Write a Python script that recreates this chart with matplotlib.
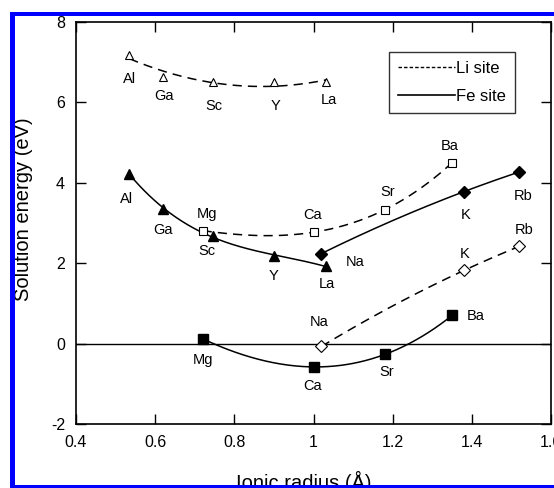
import numpy as np
import matplotlib
matplotlib.use('Agg')
import matplotlib.pyplot as plt
from matplotlib.lines import Line2D
from matplotlib.patches import Rectangle

plt.rcParams['font.family'] = ['Liberation Sans', 'DejaVu Sans']
plt.rcParams['axes.unicode_minus'] = False

#-------------------------------------------------------------------------------
# ionic radius (A) and solution energy (eV)
tri_names = ['Al', 'Ga', 'Sc', 'Y', 'La']
tri_radius = [0.535, 0.62, 0.745, 0.90, 1.032]
tri_li = [7.18, 6.63, 6.50, 6.50, 6.51]
tri_fe = [4.22, 3.35, 2.68, 2.19, 1.92]

div_names = ['Mg', 'Ca', 'Sr', 'Ba']
div_radius = [0.72, 1.00, 1.18, 1.35]
div_li = [2.81, 2.77, 3.33, 4.50]
div_fe = [0.12, -0.58, -0.27, 0.70]

mono_names = ['Na', 'K', 'Rb']
mono_radius = [1.02, 1.38, 1.52]
mono_li = [-0.07, 1.82, 2.42]
mono_fe = [2.24, 3.78, 4.27]

xticks = [0.4, 0.6, 0.8, 1.0, 1.2, 1.4, 1.6]
xticklabels = ['0.4', '0.6', '0.8', '1', '1.2', '1.4', '1.6']
yticks = [-2, 0, 2, 4, 6, 8]

# label offsets (pixels) for each point
off_tri_li = [(0, -24), (1, -19), (1, -24), (2, -24), (3, -18)]
off_tri_fe = [(-3, -25), (0, -21), (-6, -15), (0, -20), (1, -18)]
off_div_li = [(4, 17), (-1, 17), (3, 18), (-2, 17)]
off_div_fe = [(0, -21), (-1, -19), (2, -18), (24, -1)]
off_mono_li = [(-2, 24), (1, 16), (5, 16)]
off_mono_fe = [(34, -8), (2, -23), (4, -24)]
#-------------------------------------------------------------------------------

fig = plt.figure(figsize=(5.54, 4.88), dpi=100)
fig.patch.set_facecolor('white')
ax = fig.add_axes([76/554, 1-424/488, 475/554, 402/488])

dash = (0, (6, 4))

def fit_line(x, y, deg, ls):
    p = np.polyfit(x, y, deg)
    xx = np.linspace(min(x), max(x), 200)
    ax.plot(xx, np.polyval(p, xx), color='black', lw=1.1, linestyle=ls, zorder=2)

def put_labels(names, x, y, offs):
    for n, xi, yi, o in zip(names, x, y, offs):
        ax.annotate(n, (xi, yi), xytext=o, textcoords='offset pixels',
                    ha='center', va='center', fontsize=10.5)

ax.axhline(0, color='black', lw=1.0, zorder=1)

fit_line(tri_radius, tri_li, 2, dash)
fit_line(tri_radius, tri_fe, 3, '-')
fit_line(div_radius, div_li, 3, dash)
fit_line(div_radius, div_fe, 3, '-')
fit_line(mono_radius, mono_li, 2, dash)
fit_line(mono_radius, mono_fe, 2, '-')

ax.plot(tri_radius, tri_li, linestyle='none', marker='^', ms=5.5, mfc='white', mec='black', mew=0.8, zorder=3)
ax.plot(tri_radius, tri_fe, linestyle='none', marker='^', ms=6.5, color='black', zorder=3)
ax.plot(div_radius, div_li, linestyle='none', marker='s', ms=6.3, mfc='white', mec='black', mew=0.8, zorder=3)
ax.plot(div_radius, div_fe, linestyle='none', marker='s', ms=7.8, color='black', zorder=3)
ax.plot(mono_radius, mono_li, linestyle='none', marker='D', ms=5.8, mfc='white', mec='black', mew=0.8, zorder=3)
ax.plot(mono_radius, mono_fe, linestyle='none', marker='D', ms=5.8, color='black', zorder=3)

put_labels(tri_names, tri_radius, tri_li, off_tri_li)
put_labels(tri_names, tri_radius, tri_fe, off_tri_fe)
put_labels(div_names, div_radius, div_li, off_div_li)
put_labels(div_names, div_radius, div_fe, off_div_fe)
put_labels(mono_names, mono_radius, mono_li, off_mono_li)
put_labels(mono_names, mono_radius, mono_fe, off_mono_fe)

ax.set_xlim(0.4, 1.6)
ax.set_ylim(-2, 8)
ax.set_xticks(xticks)
ax.set_xticklabels(xticklabels)
ax.set_yticks(yticks)
ax.tick_params(direction='in', length=7, width=1.0, labelsize=11.5, pad=8,
               top=True, right=True)
for s in ax.spines.values():
    s.set_linewidth(1.2)

ax.set_xlabel('Ionic radius (Å)', fontsize=14.5)
ax.xaxis.set_label_coords(0.48, -0.117)
ax.set_ylabel('Solution energy (eV)', fontsize=14.5)
ax.yaxis.set_label_coords(-0.09, 0.535)

handles = [Line2D([], [], color='black', lw=1.0, linestyle=(0, (2.5, 1.5))),
           Line2D([], [], color='black', lw=1.2, linestyle='-')]
leg = ax.legend(handles, ['Li site', 'Fe site'], loc='upper right',
                bbox_to_anchor=(0.924, 0.925), borderaxespad=0, fontsize=12,
                handlelength=3.4, handletextpad=0.05, labelspacing=0.75,
                fancybox=False, frameon=True, borderpad=0.55)
leg.get_frame().set_edgecolor('black')
leg.get_frame().set_linewidth(1.0)

# blue frame around the picture
W, H = 554.0, 488.0
for (x0, y0, w, h) in [(10, 12, 5, 476), (10, 12, 544, 4), (10, 485, 544, 3)]:
    fig.add_artist(Rectangle((x0/W, 1-(y0+h)/H), w/W, h/H, transform=fig.transFigure,
                             facecolor='#0000ff', edgecolor='none', zorder=10))

fig.savefig('out.png', dpi=100)
